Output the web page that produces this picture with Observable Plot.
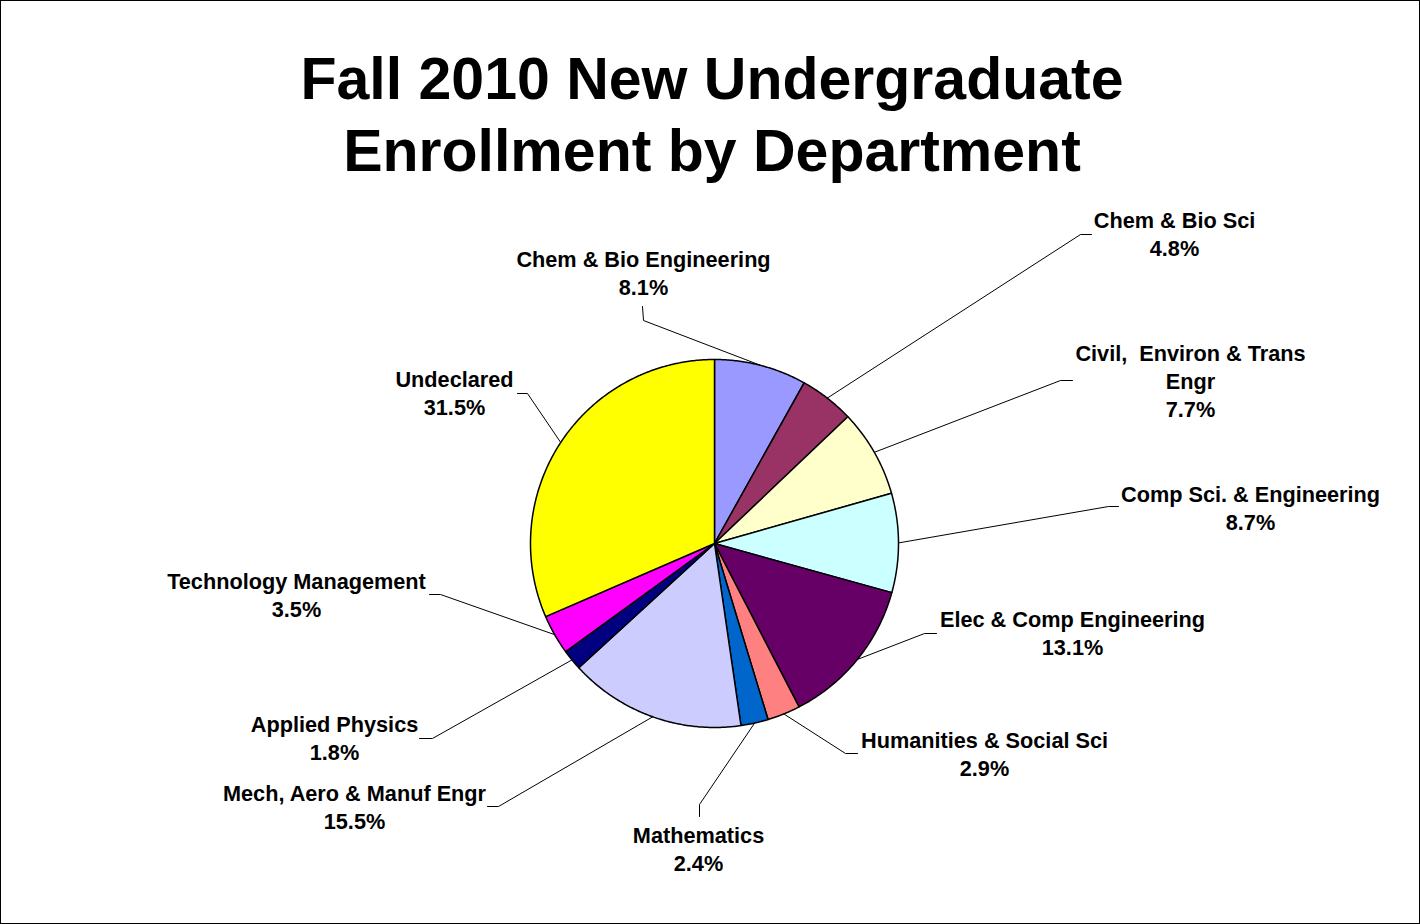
<!DOCTYPE html>
<html><head><meta charset="utf-8">
<script src="https://cdn.jsdelivr.net/npm/d3@7"></script>
<script src="https://cdn.jsdelivr.net/npm/@observablehq/plot@0.6"></script>
<style>
body{margin:0;background:#fff;font-family:"Liberation Sans",Arial,sans-serif;}
#frame{position:absolute;left:0;top:0;width:1420px;height:924px;box-sizing:border-box;border:1px solid #000;pointer-events:none;}
#title{position:absolute;left:2px;top:43px;width:1420px;text-align:center;font-weight:bold;font-size:59px;line-height:72px;color:#000;}
#chart{position:absolute;left:0;top:195px;}
#chart svg text{white-space:pre;}
</style></head><body>
<div id="title">Fall 2010 New Undergraduate<br>Enrollment by Department</div>
<div id="chart"></div>
<div id="frame"></div>
<script>
// ---- data ----
const departments = [
  "Chem & Bio Engineering", "Chem & Bio Sci", "Civil,  Environ & Trans Engr",
  "Comp Sci. & Engineering", "Elec & Comp Engineering", "Humanities & Social Sci",
  "Mathematics", "Mech, Aero & Manuf Engr", "Applied Physics",
  "Technology Management", "Undeclared"
];
const shares = [8.1, 4.8, 7.7, 8.7, 13.1, 2.9, 2.4, 15.5, 1.8, 3.5, 31.5];
const displayNames = [
  "Chem & Bio Engineering", "Chem & Bio Sci", "Civil,  Environ & Trans\nEngr",
  "Comp Sci. & Engineering", "Elec & Comp Engineering", "Humanities & Social Sci",
  "Mathematics", "Mech, Aero & Manuf Engr", "Applied Physics",
  "Technology Management", "Undeclared"
];
const colors = ["#9999FF", "#993366", "#FFFFCC", "#CCFFFF", "#660066", "#FF8080",
                "#0066CC", "#CCCCFF", "#000080", "#FF00FF", "#FFFF00"];

// ---- layout (page pixels): label block centre, leader elbow, leader end ----
const labelLayout = [
  [643, 272, 643, 320, 642, 306],
  [1174, 233, 1080, 234, 1091, 234],
  [1190, 379.5, 1060, 380, 1072, 380],
  [1250, 506.5, 1108, 506, 1118, 506],
  [1072, 631.5, 924, 633, 936, 633],
  [984, 752.5, 845, 753, 857, 753],
  [698, 847.5, 699, 804, 699, 816],
  [354, 805.5, 498, 806, 487, 806],
  [334, 736.5, 432, 738, 419, 738],
  [296, 593.5, 440, 594, 429, 594],
  [454, 391.5, 527, 393, 517, 393]
];
const W = 1420, H = 729, svgTop = 195;
const cx = 714, cy = 543, R = 184;
const toX = px => px - cx, toY = py => cy - py;

const slicePts = [];
const leaderPts = [];
const labels = [];
let cum = 0;
departments.forEach((d, i) => {
  const a0 = cum / 100 * 2 * Math.PI;
  cum += shares[i];
  const a1 = cum / 100 * 2 * Math.PI;
  slicePts.push({dept: d, x: 0, y: 0});
  const n = Math.max(2, Math.ceil((a1 - a0) / (Math.PI / 360)));
  for (let k = 0; k <= n; k++) {
    const a = a0 + (a1 - a0) * k / n;
    slicePts.push({dept: d, x: R * Math.sin(a), y: R * Math.cos(a)});
  }
  const am = (a0 + a1) / 2;
  const L = labelLayout[i];
  leaderPts.push({dept: d, x: R * Math.sin(am), y: R * Math.cos(am)});
  leaderPts.push({dept: d, x: toX(L[2]), y: toY(L[3])});
  leaderPts.push({dept: d, x: toX(L[4]), y: toY(L[5])});
  labels.push({dept: d, x: toX(L[0]), y: toY(L[1]), text: displayNames[i] + "\n" + shares[i].toFixed(1) + "%"});
});

const chart = Plot.plot({
  width: W, height: H, margin: 0,
  style: {background: "transparent", fontFamily: '"Liberation Sans", Arial, sans-serif', overflow: "visible"},
  x: {domain: [toX(0), toX(W)], axis: null},
  y: {domain: [toY(svgTop + H), toY(svgTop)], axis: null},
  color: {domain: departments, range: colors},
  marks: [
    Plot.line(slicePts, {x: "x", y: "y", z: "dept", fill: "dept", stroke: "#000", strokeWidth: 1.5, curve: "linear-closed", strokeLinejoin: "round"}),
    Plot.line(leaderPts, {x: "x", y: "y", z: "dept", stroke: "#000", strokeWidth: 1}),
    Plot.text(labels, {x: "x", y: "y", text: "text", fontSize: 21.7, fontWeight: "bold", lineHeight: 1.29, fill: "#000", textAnchor: "middle", lineAnchor: "middle"})
  ]
});
document.getElementById("chart").appendChild(chart);
</script>
</body></html>
